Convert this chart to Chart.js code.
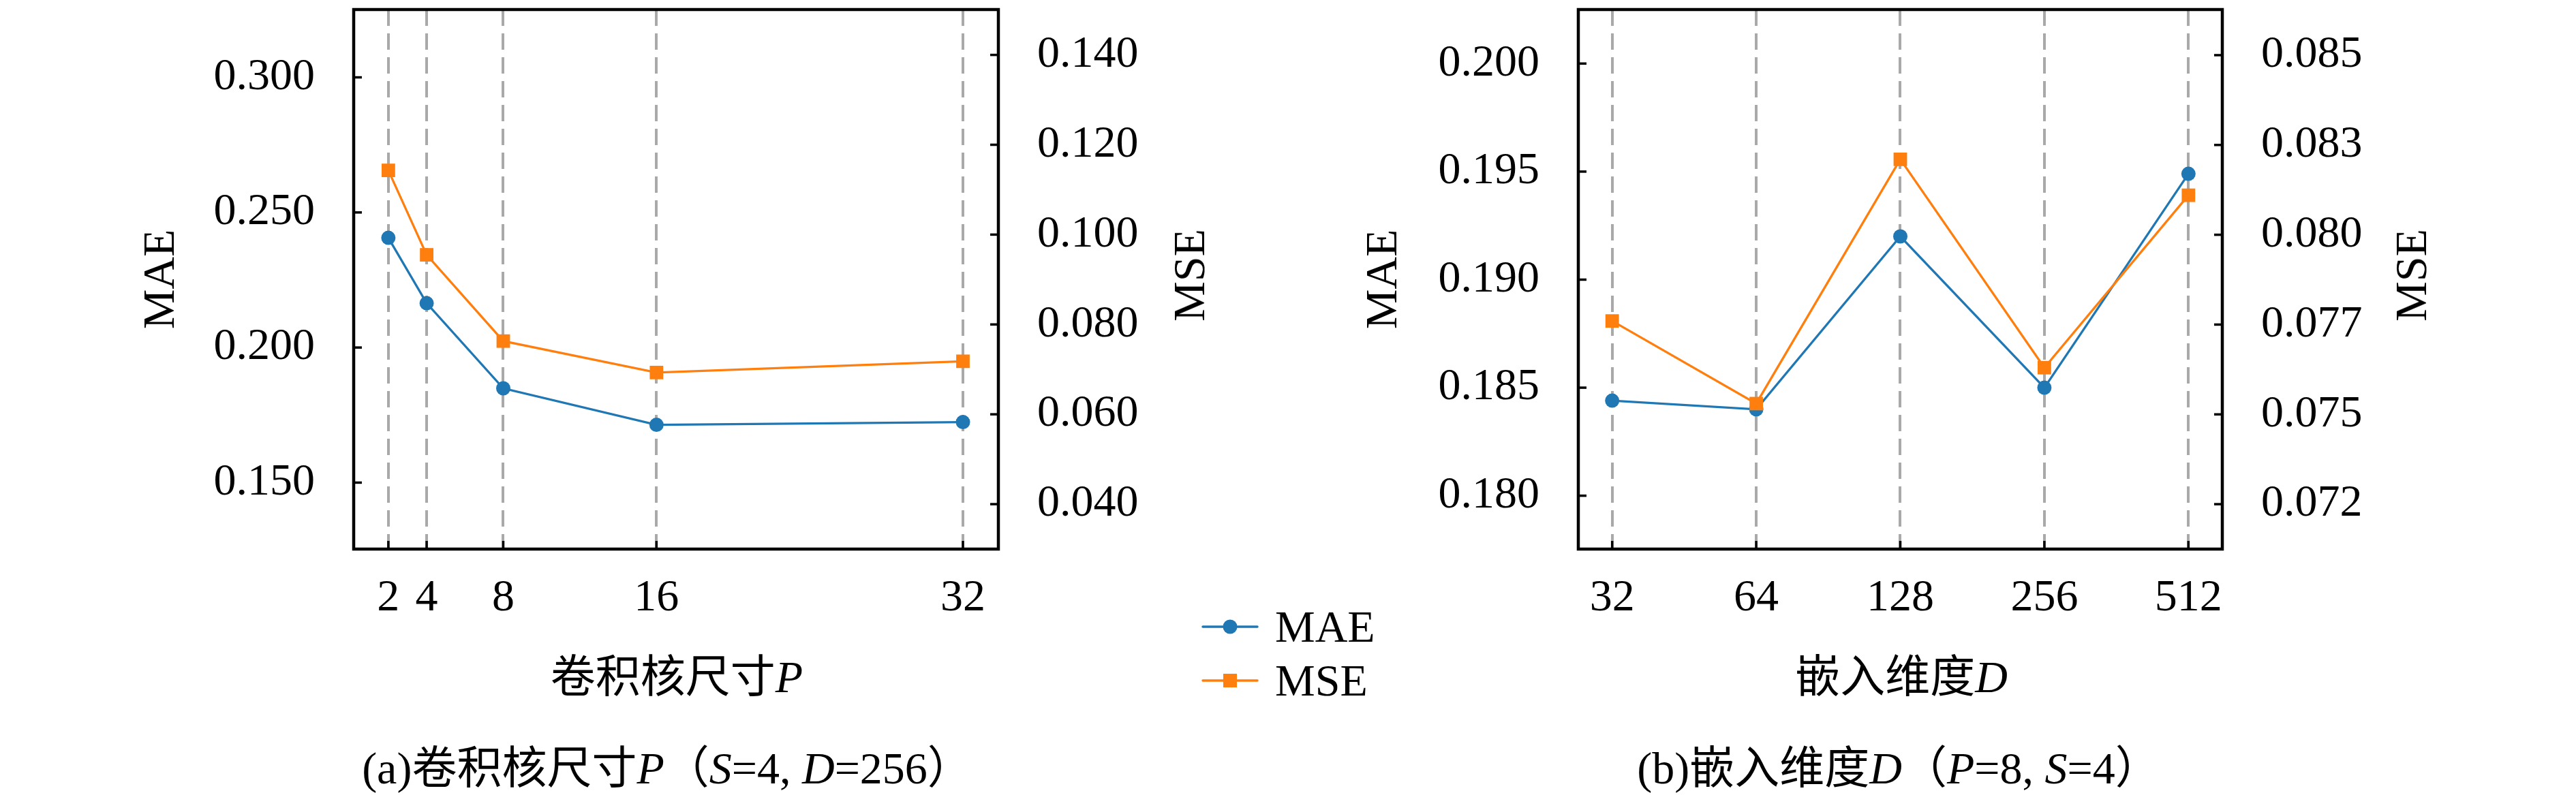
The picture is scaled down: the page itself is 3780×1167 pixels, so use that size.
<!DOCTYPE html>
<html>
<head>
<meta charset="utf-8">
<script src="https://cdn.jsdelivr.net/npm/chart.js@4.4.0/dist/chart.umd.min.js"></script>
<style>
  html, body { margin: 0; padding: 0; background: #fff; }
  #wrap { position: relative; width: 3780px; height: 1167px; overflow: hidden;
          font-family: 'Liberation Serif', 'Noto Sans CJK SC', serif; color: #000; }
  canvas { position: absolute; top: 0; }
  .lbl { position: absolute; white-space: nowrap; font-size: 66px; line-height: 1;
         transform: translate(-50%, -50%); }
  .rot { transform: translate(-50%, -50%) rotate(-90deg); }
  .legend { position: absolute; left: 1763px; top: 880px; font-size: 66px; line-height: 1; }
  .legend div { display: flex; align-items: center; height: 79px; }
  .legend svg { margin-right: 24px; }
</style>
</head>
<body>
<div id="wrap">
  <canvas id="chartA" width="1890" height="1167" style="left:0"></canvas>
  <canvas id="chartB" width="1890" height="1167" style="left:1890px"></canvas>

  <div class="lbl rot" style="left:1745px; top:404px">MSE</div>
  <div class="lbl rot" style="left:3538px; top:404px">MSE</div>

  <div class="lbl" style="left:993px; top:994px">卷积核尺寸<i>P</i></div>
  <div class="lbl" style="left:2790px; top:994px">嵌入维度<i>D</i></div>
  <div class="lbl" style="left:979px; top:1128px">(a)卷积核尺寸<i>P</i>（<i>S</i>=4, <i>D</i>=256）</div>
  <div class="lbl" style="left:2786px; top:1128px">(b)嵌入维度<i>D</i>（<i>P</i>=8, <i>S</i>=4）</div>

  <div class="legend">
    <div><svg width="84" height="30"><line x1="2" y1="15" x2="82" y2="15" stroke="#1f77b4" stroke-width="3.5" stroke-linecap="round"/><circle cx="42" cy="15" r="10.5" fill="#1f77b4"/></svg>MAE</div>
    <div><svg width="84" height="30"><line x1="2" y1="15" x2="82" y2="15" stroke="#ff7f0e" stroke-width="3.5" stroke-linecap="round"/><rect x="32" y="5" width="20" height="20" fill="#ff7f0e"/></svg>MSE</div>
  </div>
</div>

<script>
// (a) kernel size P
const kernelSizes = [2, 4, 8, 16, 32];
const maeKernel = [0.2406, 0.2164, 0.1849, 0.1714, 0.1724];
const mseKernel = [0.1143, 0.0955, 0.0763, 0.0693, 0.0718];
const maeTicksA = [0.150, 0.200, 0.250, 0.300];
const mseTicksA = [0.040, 0.060, 0.080, 0.100, 0.120, 0.140];

// (b) embedding dimension D
const embedDims = ['32', '64', '128', '256', '512'];
const maeEmbed = [0.1844, 0.1840, 0.1920, 0.1850, 0.1949];
const mseEmbed = [0.0776, 0.0753, 0.0821, 0.0763, 0.0811];
const maeTicksB = [0.180, 0.185, 0.190, 0.195, 0.200];
const mseTicksB = [0.0725, 0.0750, 0.0775, 0.0800, 0.0825, 0.0850];
const mseLabelsB = ['0.072', '0.075', '0.077', '0.080', '0.083', '0.085'];

const BLUE = '#1f77b4';
const ORANGE = '#ff7f0e';
const FONT = "'Liberation Serif', 'DejaVu Serif', serif";

// inward tick marks and the black box round the plot
const frameTicks = {
  id: 'frameTicks',
  afterDraw(chart) {
    const {ctx, chartArea: a} = chart;
    ctx.save();
    ctx.strokeStyle = '#000';
    ctx.lineWidth = 3.5;
    Object.values(chart.scales).forEach(s => {
      s.ticks.forEach(t => {
        const p = s.getPixelForValue(t.value);
        ctx.beginPath();
        if (s.position === 'left') { ctx.moveTo(a.left, p); ctx.lineTo(a.left + 12, p); }
        else if (s.position === 'right') { ctx.moveTo(a.right, p); ctx.lineTo(a.right - 12, p); }
        else { ctx.moveTo(p, a.bottom); ctx.lineTo(p, a.bottom - 12); }
        ctx.stroke();
      });
    });
    ctx.lineWidth = 4.5;
    ctx.strokeRect(a.left, a.top, a.right - a.left, a.bottom - a.top);
    ctx.restore();
  }
};

function fixTicks(vals) {
  return scale => { scale.ticks = vals.map(v => ({value: v})); };
}

function noPad(s) {
  s.paddingTop = 0; s.paddingBottom = 0; s.paddingLeft = 0; s.paddingRight = 0;
}

function yAxis(pos, min, max, tickVals, labels, width, title, titlePad) {
  return {
    type: 'linear', position: pos, min: min, max: max,
    afterBuildTicks: fixTicks(tickVals),
    afterFit: s => { s.width = width; noPad(s); },
    grid: { display: false },
    border: { display: false },
    ticks: { color: '#000', padding: 49, font: { family: FONT, size: 66 },
             callback: (v, i) => labels[i] },
    title: { display: !!title, text: title || '', color: '#000',
             font: { family: FONT, size: 66 }, padding: { top: titlePad, bottom: 0 } }
  };
}

function xAxis(min, max, tickVals, labels) {
  return {
    type: 'linear', position: 'bottom', min: min, max: max,
    afterBuildTicks: fixTicks(tickVals),
    afterFit: s => { s.height = 361; noPad(s); },
    grid: { display: true, drawTicks: false, color: '#a9a9a9', lineWidth: 4 },
    border: { display: false, dash: [24, 11] },
    ticks: { color: '#000', padding: 33, maxRotation: 0, autoSkip: false,
             font: { family: FONT, size: 66 }, callback: (v, i) => labels[i] }
  };
}

function series(label, xs, ys, color, style, radius, axis, order) {
  return {
    label: label,
    data: xs.map((x, i) => ({x: x, y: ys[i]})),
    borderColor: color, backgroundColor: color,
    borderWidth: 3.3, pointStyle: style, pointRadius: radius,
    pointBorderWidth: 0, yAxisID: axis, order: order, fill: false
  };
}

const common = {
  responsive: false, devicePixelRatio: 1, animation: false,
  plugins: { legend: { display: false }, tooltip: { enabled: false } }
};

new Chart(document.getElementById('chartA'), {
  type: 'line',
  data: {
    datasets: [
      series('MAE', kernelSizes, maeKernel, BLUE, 'circle', 10.5, 'y', 1),
      series('MSE', kernelSizes, mseKernel, ORANGE, 'rect', 14, 'y1', 0)
    ]
  },
  options: Object.assign({}, common, {
    layout: { padding: { top: 2, left: 0, right: 0, bottom: 0 } },
    scales: {
      x: xAxis(0.19, 33.85, kernelSizes, kernelSizes.map(String)),
      y: yAxis('left', 0.1254, 0.3251, maeTicksA, maeTicksA.map(v => v.toFixed(3)), 519, 'MAE', 198),
      y1: yAxis('right', 0.030, 0.1501, mseTicksA, mseTicksA.map(v => v.toFixed(3)), 425, '', 0)
    }
  }),
  plugins: [frameTicks]
});

new Chart(document.getElementById('chartB'), {
  type: 'line',
  data: {
    datasets: [
      series('MAE', embedDims.map((d, i) => i), maeEmbed, BLUE, 'circle', 10.5, 'y', 1),
      series('MSE', embedDims.map((d, i) => i), mseEmbed, ORANGE, 'rect', 14, 'y1', 0)
    ]
  },
  options: Object.assign({}, common, {
    layout: { padding: { top: 2, left: 0, right: 0, bottom: 0 } },
    scales: {
      x: xAxis(-0.235, 4.235, embedDims.map((d, i) => i), embedDims),
      y: yAxis('left', 0.17753, 0.2025, maeTicksB, maeTicksB.map(v => v.toFixed(3)), 426, 'MAE', 102),
      y1: yAxis('right', 0.07125, 0.08627, mseTicksB, mseLabelsB, 519, '', 0)
    }
  }),
  plugins: [frameTicks]
});
</script>
</body>
</html>
